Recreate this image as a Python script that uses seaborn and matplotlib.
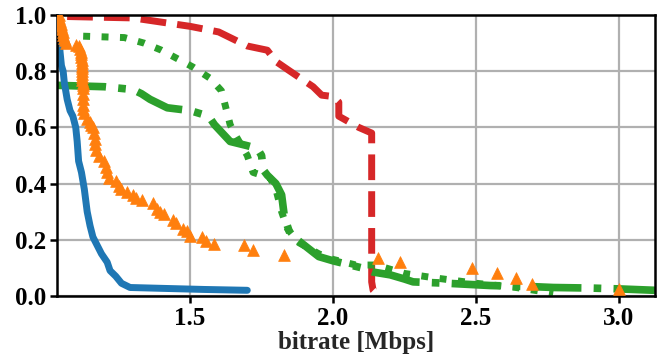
import matplotlib
matplotlib.use("Agg")
import matplotlib.pyplot as plt
import seaborn as sns
import pandas as pd

# ---- data ----
blue_x = [1.036, 1.040, 1.045, 1.050, 1.056, 1.060, 1.070, 1.080, 1.090, 1.100, 1.105,
          1.110, 1.120, 1.130, 1.140, 1.150, 1.160, 1.175, 1.190, 1.210, 1.220, 1.240,
          1.260, 1.290, 1.400, 1.550, 1.700]
blue_y = [1.000, 0.950, 0.870, 0.820, 0.800, 0.760, 0.700, 0.660, 0.640, 0.600, 0.550,
          0.480, 0.440, 0.380, 0.300, 0.250, 0.210, 0.180, 0.150, 0.120, 0.090, 0.070,
          0.045, 0.030, 0.027, 0.023, 0.020]

orange_x = [1.040, 1.042, 1.045, 1.047, 1.050, 1.052, 1.055, 1.057, 1.060, 1.062, 1.065,
            1.100, 1.110, 1.115, 1.118, 1.120, 1.120, 1.121, 1.121, 1.122, 1.122, 1.122,
            1.123, 1.123, 1.123, 1.124, 1.124, 1.125, 1.125, 1.126, 1.126, 1.127,
            1.130, 1.140, 1.150, 1.155, 1.160, 1.165, 1.167, 1.168, 1.170, 1.180, 1.200,
            1.205, 1.210, 1.215, 1.240, 1.250, 1.260, 1.280, 1.300, 1.310, 1.330, 1.370,
            1.385, 1.395, 1.410, 1.440, 1.450, 1.475, 1.490, 1.500, 1.540, 1.555, 1.585,
            1.690, 1.720, 1.830, 2.157, 2.235, 2.486, 2.573, 2.640, 2.696, 3.000]
orange_y = [1.000, 0.990, 0.980, 0.970, 0.960, 0.950, 0.940, 0.930, 0.920, 0.910, 0.900,
            0.895, 0.890, 0.880, 0.870, 0.860, 0.850, 0.840, 0.830, 0.820, 0.810, 0.800,
            0.790, 0.780, 0.770, 0.760, 0.750, 0.740, 0.720, 0.700, 0.680, 0.665,
            0.650, 0.630, 0.620, 0.610, 0.600, 0.580, 0.560, 0.540, 0.520, 0.500, 0.480,
            0.460, 0.440, 0.420, 0.410, 0.390, 0.380, 0.370, 0.360, 0.350, 0.340, 0.330,
            0.310, 0.300, 0.290, 0.270, 0.260, 0.240, 0.230, 0.215, 0.210, 0.195, 0.185,
            0.180, 0.165, 0.145, 0.135, 0.120, 0.100, 0.080, 0.063, 0.042, 0.024]

gdot_x = [1.126, 1.270, 1.340, 1.400, 1.455, 1.510, 1.570, 1.610, 1.625, 1.640, 1.660,
          1.700, 1.720, 1.780, 1.800, 1.820, 1.840, 1.880, 1.950, 2.000, 2.080, 2.150,
          2.250, 2.350, 2.500, 2.640, 2.770]
gdot_y = [0.925, 0.920, 0.900, 0.875, 0.845, 0.815, 0.775, 0.730, 0.670, 0.610, 0.570,
          0.500, 0.440, 0.420, 0.380, 0.300, 0.240, 0.190, 0.150, 0.130, 0.110, 0.110,
          0.080, 0.065, 0.045, 0.030, 0.010]

gdd_x = [1.035, 1.200, 1.300, 1.330, 1.360, 1.420, 1.500, 1.565, 1.585, 1.640, 1.700,
         1.735, 1.750, 1.755, 1.770, 1.800, 1.820, 1.830, 1.850, 1.900, 1.950, 2.000,
         2.100, 2.140, 2.200, 2.250, 2.280, 2.400, 2.550, 2.700, 2.770, 2.900, 3.000, 3.126]
gdd_y = [0.750, 0.745, 0.735, 0.720, 0.700, 0.670, 0.660, 0.640, 0.610, 0.550, 0.535,
         0.525, 0.500, 0.450, 0.430, 0.400, 0.360, 0.280, 0.220, 0.180, 0.140, 0.125,
         0.100, 0.085, 0.075, 0.060, 0.050, 0.045, 0.037, 0.033, 0.030, 0.028, 0.025, 0.020]

red_x = [1.070, 1.300, 1.400, 1.500, 1.600, 1.640, 1.700, 1.770, 1.800, 1.850, 1.930,
         1.960, 2.000, 2.020, 2.020, 2.090, 2.135, 2.135, 2.140, 2.160]
red_y = [0.995, 0.990, 0.975, 0.960, 0.940, 0.920, 0.890, 0.875, 0.835, 0.800, 0.745,
         0.715, 0.710, 0.690, 0.640, 0.600, 0.580, 0.050, 0.020, 0.000]

x_ticks = [1.5, 2.0, 2.5, 3.0]
y_ticks = [0.0, 0.2, 0.4, 0.6, 0.8, 1.0]
x_label = "bitrate [Mbps]"

# ---- style ----
sns.set_theme(style="whitegrid")
plt.rcParams["font.family"] = ["Liberation Serif", "DejaVu Serif"]
plt.rcParams["font.weight"] = "bold"

fig = plt.figure(figsize=(6.57, 3.60), dpi=100)
ax = fig.add_axes([0.087, 0.178, 0.910, 0.780])

lw = 5
sns.lineplot(x=red_x, y=red_y, sort=False, estimator=None, ax=ax,
             color="#d62728", lw=lw, linestyle="--")
sns.lineplot(x=gdot_x, y=gdot_y, sort=False, estimator=None, ax=ax,
             color="#2ca02c", lw=lw, linestyle=":")
sns.lineplot(x=gdd_x, y=gdd_y, sort=False, estimator=None, ax=ax,
             color="#2ca02c", lw=5.5, linestyle="-.")
sns.lineplot(x=blue_x, y=blue_y, sort=False, estimator=None, ax=ax,
             color="#1f77b4", lw=lw, linestyle="-")
sns.scatterplot(x=orange_x, y=orange_y, ax=ax, color="#ff7f0e", marker="^",
                s=72, edgecolor="#ff7f0e", linewidth=0.5, zorder=5)

fs = 18
ax.set_xlim(1.035, 3.126)
ax.set_ylim(0.0, 1.0)
ax.set_xticks(x_ticks)
ax.set_yticks(y_ticks)
ax.set_xticklabels([f"{t:.1f}" for t in x_ticks], fontsize=fs, fontweight="bold")
ax.set_yticklabels([f"{t:.1f}" for t in y_ticks], fontsize=fs, fontweight="bold")
ax.set_xlabel(x_label, fontsize=fs, fontweight="bold", labelpad=1)
ax.set_ylabel("")

ax.grid(True, color="#b0b0b0", lw=1.6)
for s in ax.spines.values():
    s.set_color("black")
    s.set_linewidth(1.8)
    s.set_visible(True)
ax.tick_params(axis="both", direction="out", length=5, width=1.8, color="black",
               left=True, bottom=True, pad=3, labelcolor="black")

fig.savefig("out.png", dpi=100)
